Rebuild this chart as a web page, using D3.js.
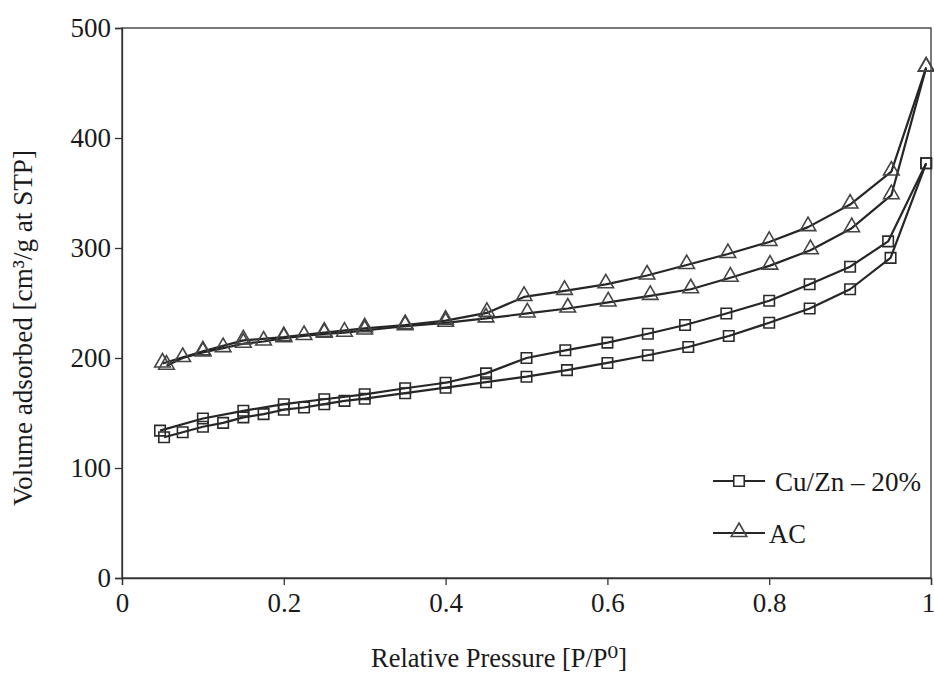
<!DOCTYPE html>
<html>
<head>
<meta charset="utf-8">
<script src="https://cdn.jsdelivr.net/npm/d3@7/dist/d3.min.js"></script>
<style>
  html, body { margin: 0; padding: 0; background: #fff; }
  svg { display: block; }
</style>
</head>
<body>
<svg id="chart" width="934" height="673"></svg>
<script>
// ---- data ----
const xTicks = [0, 0.2, 0.4, 0.6, 0.8, 1];
const xTickLabels = ["0", "0.2", "0.4", "0.6", "0.8", "1"];
const yTicks = [0, 100, 200, 300, 400, 500];

const seriesNames = ["Cu/Zn \u2013 20%", "AC"];

// Cu/Zn-20% adsorption branch
const cuAdsP = [0.052, 0.075, 0.1, 0.125, 0.15, 0.175, 0.2, 0.225, 0.25, 0.275, 0.3, 0.35, 0.4, 0.45, 0.5, 0.55, 0.6, 0.65, 0.7, 0.75, 0.8, 0.85, 0.9, 0.95, 0.994];
const cuAdsV = [128, 132.5, 137.5, 141, 146, 149, 153, 155, 158, 161, 163, 168, 173, 178, 183, 189, 195.5, 202.5, 210, 220, 232, 245, 262.5, 291, 377];
// Cu/Zn-20% desorption branch
const cuDesP = [0.994, 0.947, 0.9, 0.85, 0.8, 0.747, 0.696, 0.65, 0.6, 0.548, 0.5, 0.45, 0.4, 0.35, 0.3, 0.25, 0.2, 0.15, 0.1, 0.047];
const cuDesV = [377, 306, 283, 267, 252, 240.5, 230, 222, 214, 207, 200, 186, 177.5, 172.5, 167, 162.5, 158, 152, 145, 134];

// AC adsorption branch
const acAdsP = [0.055, 0.075, 0.1, 0.125, 0.15, 0.175, 0.2, 0.225, 0.25, 0.275, 0.3, 0.35, 0.4, 0.45, 0.501, 0.551, 0.601, 0.653, 0.703, 0.752, 0.801, 0.851, 0.902, 0.951, 0.994];
const acAdsV = [193, 200, 205, 209, 213, 215, 218, 220, 222, 223, 225, 229, 232, 236, 240.5, 245, 250.5, 256.5, 262.5, 273, 284, 298, 318, 348, 464];
// AC desorption branch
const acDesP = [0.994, 0.951, 0.9, 0.848, 0.8, 0.749, 0.698, 0.649, 0.598, 0.547, 0.497, 0.451, 0.4, 0.35, 0.3, 0.25, 0.2, 0.15, 0.1, 0.05];
const acDesV = [464, 369.5, 339.5, 319, 305.5, 294.5, 284.5, 275, 267, 261, 255.5, 241, 234, 230, 227, 223, 219, 216, 206, 195];

// ---- layout ----
const FONT = "'Liberation Serif', 'DejaVu Serif', 'Times New Roman', Times, serif";
const svg = d3.select("#chart");
const x = d3.scaleLinear().domain([0, 1]).range([122, 931]);
const y = d3.scaleLinear().domain([0, 500]).range([578, 28]);

const zip = (ps, vs) => ps.map((p, i) => [p, vs[i]]);
const series = [
  { name: "cuAds", pts: zip(cuAdsP, cuAdsV), marker: "square" },
  { name: "cuDes", pts: zip(cuDesP, cuDesV), marker: "square" },
  { name: "acAds", pts: zip(acAdsP, acAdsV), marker: "triangle" },
  { name: "acDes", pts: zip(acDesP, acDesV), marker: "triangle" }
];

const styleText = sel => sel.style("font-family", FONT).style("fill", "#1a1a1a");

// frame
svg.append("rect")
  .attr("x", x(0)).attr("y", y(500))
  .attr("width", x(1) - x(0)).attr("height", y(0) - y(500))
  .attr("fill", "none").attr("stroke", "#333").attr("stroke-width", 1.3);

// axes
const xAxis = d3.axisBottom(x).tickValues(xTicks)
  .tickFormat((d, i) => xTickLabels[i]).tickSize(7).tickPadding(8);
const gx = svg.append("g").attr("transform", `translate(0,${y(0)})`).call(xAxis)
  .attr("font-family", null).attr("font-size", null);
gx.select(".domain").attr("stroke", "#333").attr("stroke-width", 1.3);
gx.selectAll(".tick line").attr("stroke", "#333").attr("stroke-width", 1.3);
gx.selectAll(".tick text").style("font-size", "27px").call(styleText)
  .attr("dx", (d, i) => i === xTicks.length - 1 ? -3 : 0);

const yAxis = d3.axisLeft(y).tickValues(yTicks).tickFormat(d3.format("d")).tickSize(7).tickPadding(4);
const gy = svg.append("g").attr("transform", `translate(${x(0)},0)`).call(yAxis)
  .attr("font-family", null).attr("font-size", null);
gy.select(".domain").attr("stroke", "#333").attr("stroke-width", 1.3);
gy.selectAll(".tick line").attr("stroke", "#333").attr("stroke-width", 1.3);
gy.selectAll(".tick text").style("font-size", "27px").call(styleText);

// axis titles
svg.append("text")
  .attr("x", 499).attr("y", 667)
  .attr("text-anchor", "middle").style("font-size", "28px")
  .attr("textLength", 256).attr("lengthAdjust", "spacingAndGlyphs")
  .call(styleText)
  .text("Relative Pressure [P/P\u2070]");

svg.append("text")
  .attr("transform", "translate(32,328) rotate(-90)")
  .attr("text-anchor", "middle").style("font-size", "28px")
  .attr("textLength", 356).attr("lengthAdjust", "spacingAndGlyphs")
  .call(styleText)
  .text("Volume adsorbed [cm\u00B3/g at STP]");

// lines
const line = d3.line().x(d => x(d[0])).y(d => y(d[1]));
svg.append("g").selectAll("path").data(series).join("path")
  .attr("d", d => line(d.pts))
  .attr("fill", "none").attr("stroke", "#262626").attr("stroke-width", 2.2)
  .attr("stroke-linejoin", "round");

// markers
const sq = d3.symbol().type(d3.symbolSquare).size(110);
const tri = d3.symbol().type(d3.symbolTriangle).size(105);
series.forEach(s => {
  svg.append("g").selectAll("path").data(s.pts).join("path")
    .attr("transform", d => `translate(${x(d[0])},${y(d[1]) + (s.marker === "triangle" ? -1 : 0)})`)
    .attr("d", s.marker === "square" ? sq : tri)
    .attr("fill", "none")
    .attr("stroke", s.marker === "square" ? "#2a2a2a" : "#444")
    .attr("stroke-width", 1.6);
});

// legend
const legend = [
  { label: seriesNames[0], marker: "square", y: 481, tx: 775, w: 146 },
  { label: seriesNames[1], marker: "triangle", y: 533, tx: 769, w: 37 }
];
legend.forEach(l => {
  svg.append("line").attr("x1", 713).attr("x2", 765).attr("y1", l.y).attr("y2", l.y)
    .attr("stroke", "#262626").attr("stroke-width", 2.2);
  svg.append("path")
    .attr("transform", `translate(739,${l.y + (l.marker === "triangle" ? -1 : 0)})`)
    .attr("d", l.marker === "square" ? sq : tri)
    .attr("fill", l.marker === "square" ? "#fff" : "none")
    .attr("stroke", l.marker === "square" ? "#2a2a2a" : "#444").attr("stroke-width", 1.6);
  svg.append("text").attr("x", l.tx).attr("y", l.y + 10)
    .style("font-size", "28px")
    .attr("textLength", l.w).attr("lengthAdjust", "spacingAndGlyphs")
    .call(styleText).text(l.label);
});
</script>
</body>
</html>
